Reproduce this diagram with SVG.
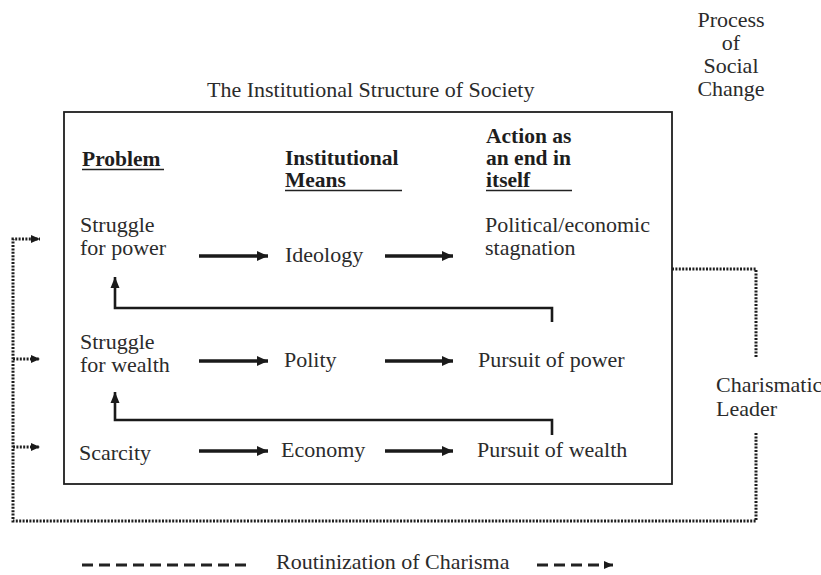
<svg xmlns="http://www.w3.org/2000/svg" width="821" height="575" viewBox="0 0 821 575">
  <style>
    text { font-family: "Liberation Serif", "Times New Roman", serif; font-size: 22px; fill: #2b2b2b; }
    .hd { font-weight: bold; font-size: 21.5px; fill: #1e1e1e; }
    .mid { text-anchor: middle; }
    .arrow { stroke: #1a1a1a; stroke-width: 3.6; fill: none; marker-end: url(#head); }
    .loop { stroke: #1a1a1a; stroke-width: 2.6; fill: none; marker-end: url(#headUp); }
    .rule { stroke: #222; stroke-width: 1.6; }
    .dot { stroke: #1e1e1e; stroke-width: 3; fill: none; stroke-dasharray: 2 1.4; }
    .dash { stroke: #222; stroke-width: 3; fill: none; stroke-dasharray: 11 6; }
  </style>
  <defs>
    <marker id="head" markerUnits="userSpaceOnUse" markerWidth="12" markerHeight="10" refX="11" refY="5" orient="auto">
      <path d="M0,0 L11,5 L0,10 z" fill="#1a1a1a"/>
    </marker>
    <marker id="headUp" markerUnits="userSpaceOnUse" markerWidth="12" markerHeight="10" refX="11" refY="5" orient="auto">
      <path d="M0,0.5 L11,5 L0,9.5 z" fill="#1a1a1a"/>
    </marker>
    <marker id="small" markerUnits="userSpaceOnUse" markerWidth="10" markerHeight="9" refX="9" refY="4.5" orient="auto">
      <path d="M0,0.5 L9,4.5 L0,8.5 z" fill="#1a1a1a"/>
    </marker>
  </defs>

  <!-- headings -->
  <g id="title">
    <text x="207" y="97">The Institutional Structure of Society</text>
  </g>
  <g id="process">
    <text class="mid" x="731" y="27">Process</text>
    <text class="mid" x="731" y="50">of</text>
    <text class="mid" x="731" y="73">Social</text>
    <text class="mid" x="731" y="96">Change</text>
  </g>

  <!-- society frame -->
  <g id="frame">
    <rect x="64" y="112" width="608" height="372" fill="none" stroke="#1e1e1e" stroke-width="1.8"/>
  </g>

  <!-- column headers -->
  <g id="col-problem">
    <text class="hd" x="82" y="166">Problem</text>
    <line class="rule" x1="82" y1="169.5" x2="164" y2="169.5"/>
  </g>
  <g id="col-means">
    <text class="hd" x="285" y="165">Institutional</text>
    <text class="hd" x="285" y="187">Means</text>
    <line class="rule" x1="285" y1="190.5" x2="402" y2="190.5"/>
  </g>
  <g id="col-action">
    <text class="hd" x="486" y="143">Action as</text>
    <text class="hd" x="486" y="165">an end in</text>
    <text class="hd" x="486" y="187">itself</text>
    <line class="rule" x1="486" y1="190.5" x2="572" y2="190.5"/>
  </g>

  <!-- row 1 -->
  <g id="struggle-power">
    <text x="80" y="232">Struggle</text>
    <text x="80" y="255">for power</text>
  </g>
  <g id="ideology">
    <text x="285" y="262">Ideology</text>
  </g>
  <g id="stagnation">
    <text x="485" y="232">Political/economic</text>
    <text x="485" y="255">stagnation</text>
  </g>

  <!-- row 2 -->
  <g id="struggle-wealth">
    <text x="80" y="349">Struggle</text>
    <text x="80" y="372">for wealth</text>
  </g>
  <g id="polity">
    <text x="284" y="367">Polity</text>
  </g>
  <g id="pursuit-power">
    <text x="478" y="367">Pursuit of power</text>
  </g>

  <!-- row 3 -->
  <g id="scarcity">
    <text x="79" y="460">Scarcity</text>
  </g>
  <g id="economy">
    <text x="281" y="457">Economy</text>
  </g>
  <g id="pursuit-wealth">
    <text x="477" y="457">Pursuit of wealth</text>
  </g>

  <!-- leader -->
  <g id="leader">
    <text x="716" y="392">Charismatic</text>
    <text x="716" y="416">Leader</text>
  </g>

  <!-- legend -->
  <g id="legend">
    <path class="dash" d="M82,565 H250"/>
    <text x="276" y="569">Routinization of Charisma</text>
    <path class="dash" d="M537,565 H613" marker-end="url(#small)"/>
  </g>

  <!-- connectors -->
  <g id="connectors">
    <path class="arrow" d="M199,256 H268"/>
    <path class="arrow" d="M385,256 H453"/>
    <path class="arrow" d="M199,361 H268"/>
    <path class="arrow" d="M385,361 H453"/>
    <path class="arrow" d="M199,451 H268"/>
    <path class="arrow" d="M385,451 H453"/>

    <path class="loop" d="M552,322 V308 H115 V277"/>
    <path class="loop" d="M552,435 V420 H115 V392"/>

    <path class="dot" d="M672,269 H756 V357"/>
    <path class="dot" d="M756,433 V521 H13 V239 H40" marker-end="url(#small)"/>
    <path class="dot" d="M13,359 H40" marker-end="url(#small)"/>
    <path class="dot" d="M13,447 H40" marker-end="url(#small)"/>
  </g>
</svg>
